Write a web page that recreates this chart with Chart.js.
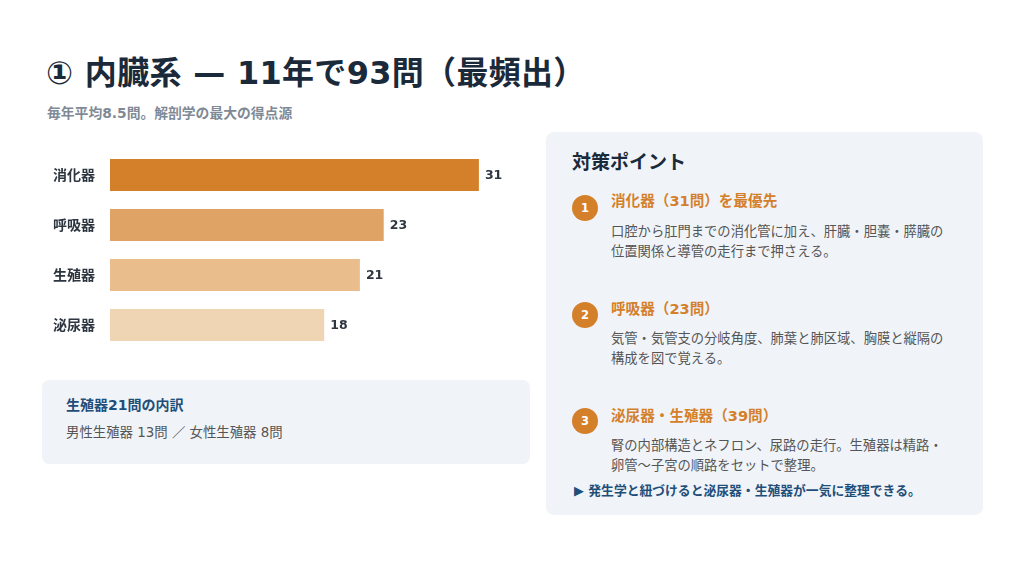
<!DOCTYPE html>
<html lang="ja">
<head>
<meta charset="utf-8">
<script src="https://cdn.jsdelivr.net/npm/chart.js@4"></script>
<style>
  html, body { margin: 0; padding: 0; background: #fff; }
  body { width: 1024px; height: 576px; position: relative; overflow: hidden;
         font-family: "DejaVu Sans", "Noto Sans CJK JP", sans-serif; }
  .abs { position: absolute; white-space: nowrap; }
  .title { left: 46px; top: 53px; font-size: 32px; line-height: 40px; font-weight: 700; color: #1b2a3a; letter-spacing: 0.3px; }
  .sub { left: 47px; top: 104px; font-size: 13.8px; line-height: 18px; font-weight: 700; color: #7f8a96; }
  .box { position: absolute; background: #f0f4f9; border-radius: 7px; }
  .navy { color: #1f4e79; font-weight: 700; }
  .gray { color: #555; }
  .orange { color: #d4802b; font-weight: 700; }
  .num { position: absolute; width: 26px; height: 26px; border-radius: 50%; background: #d4802b;
         color: #fff; font: 700 11.5px/26px "DejaVu Sans", sans-serif; text-align: center; }
  #organChart { position: absolute; left: 42px; top: 150px; }
</style>
</head>
<body>
<div class="abs title">① 内臓系 — 11年で93問（最頻出）</div>
<div class="abs sub">毎年平均8.5問。解剖学の最大の得点源</div>

<canvas id="organChart" width="488" height="200"></canvas>

<div class="box" style="left:42px;top:380px;width:488px;height:84px;"></div>
<div class="abs navy" style="left:66px;top:395px;font-size:14px;line-height:20px;">生殖器21問の内訳</div>
<div class="abs gray" style="left:66px;top:423px;font-size:13.4px;line-height:20px;">男性生殖器 13問 ／ 女性生殖器 8問</div>

<div class="box" style="left:546px;top:132px;width:437px;height:383px;border-radius:8px;"></div>
<div class="abs" style="left:572px;top:150px;font-size:19px;line-height:24px;font-weight:700;color:#1b2a3a;">対策ポイント</div>

<div class="num" style="left:572px;top:195px;">1</div>
<div class="abs orange" style="left:611px;top:191px;font-size:14.6px;line-height:20px;">消化器（31問）を最優先</div>
<div class="abs gray" style="left:611px;top:222px;font-size:13.3px;line-height:20px;">口腔から肛門までの消化管に加え、肝臓・胆嚢・膵臓の<br>位置関係と導管の走行まで押さえる。</div>

<div class="num" style="left:572px;top:302px;">2</div>
<div class="abs orange" style="left:611px;top:299px;font-size:14.6px;line-height:20px;">呼吸器（23問）</div>
<div class="abs gray" style="left:611px;top:329px;font-size:13.3px;line-height:20px;">気管・気管支の分岐角度、肺葉と肺区域、胸膜と縦隔の<br>構成を図で覚える。</div>

<div class="num" style="left:572px;top:408px;">3</div>
<div class="abs orange" style="left:611px;top:406px;font-size:14.6px;line-height:20px;">泌尿器・生殖器（39問）</div>
<div class="abs gray" style="left:611px;top:436px;font-size:13.3px;line-height:20px;">腎の内部構造とネフロン、尿路の走行。生殖器は精路・<br>卵管〜子宮の順路をセットで整理。</div>

<div class="abs navy" style="left:574px;top:482px;font-size:12.8px;line-height:18px;">▶ 発生学と紐づけると泌尿器・生殖器が一気に整理できる。</div>

<script>
const organs = ['消化器', '呼吸器', '生殖器', '泌尿器'];
const questionCounts = [31, 23, 21, 18];
const barColors = ['#d4802b', '#e0a366', '#e9be8c', '#efd5b4'];
const axisMax = 35;

const valueLabels = {
    id: 'valueLabels',
    afterDatasetsDraw(chart) {
        const ctx = chart.ctx;
        const meta = chart.getDatasetMeta(0);
        ctx.save();
        ctx.font = '700 12.5px "DejaVu Sans", sans-serif';
        ctx.fillStyle = '#2c3540';
        ctx.textBaseline = 'middle';
        meta.data.forEach((bar, i) => {
            ctx.fillText(String(questionCounts[i]), bar.x + 6, bar.y + 1);
        });
        ctx.restore();
    }
};

const organChart = new Chart(document.getElementById('organChart'), {
    type: 'bar',
    data: {
        labels: organs,
        datasets: [{
            data: questionCounts,
            backgroundColor: barColors,
            borderWidth: 0,
            categoryPercentage: 0.64,
            barPercentage: 1
        }]
    },
    options: {
        indexAxis: 'y',
        responsive: false,
        animation: false,
        layout: { padding: { top: 0, bottom: 0, left: 0, right: 3.5 } },
        plugins: { legend: { display: false }, tooltip: { enabled: false } },
        scales: {
            x: { display: false, min: 0, max: axisMax },
            y: {
                grid: { display: false, drawTicks: false },
                border: { display: false },
                afterFit(scale) {
                    scale.width = 68;
                    scale.paddingTop = 0;
                    scale.paddingBottom = 0;
                },
                ticks: {
                    padding: 15,
                    color: '#2c3540',
                    font: { family: '"Noto Sans CJK JP", sans-serif', size: 14, weight: '700' }
                }
            }
        }
    },
    plugins: [valueLabels]
});
</script>
</body>
</html>
